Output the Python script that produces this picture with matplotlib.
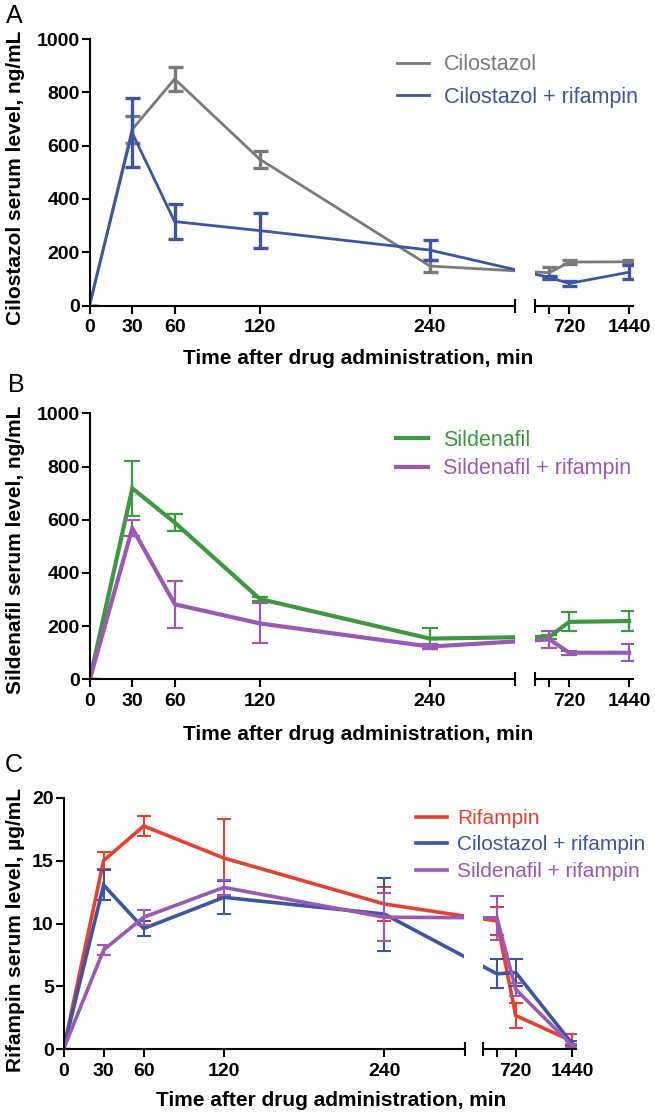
import matplotlib
matplotlib.use("Agg")
import matplotlib.pyplot as plt
import numpy as np

plt.rcParams['font.family'] = ['Liberation Sans', 'DejaVu Sans']

# sampling times, min
times = [0, 30, 60, 120, 240, 480, 720, 1440]

# panel A: cilostazol, ng/mL
cilo_mean = [0, 660, 850, 549, 148, 123, 163, 164]
cilo_err = [0, 52, 45, 32, 22, 21, 6, 6]
cilo_rif_mean = [0, 649, 315, 281, 208, 105, 83, 125]
cilo_rif_err = [0, 131, 65, 66, 37, 5, 9, 27]

# panel B: sildenafil, ng/mL
sild_mean = [0, 718, 589, 302, 153, 160, 216, 219]
sild_err = [0, 103, 33, 7, 40, 8, 36, 37]
sild_rif_mean = [0, 568, 282, 210, 123, 150, 100, 100]
sild_rif_err = [0, 30, 88, 75, 8, 33, 7, 32]

# panel C: rifampin, ug/mL
rif_mean = [0, 15.0, 17.75, 15.2, 11.55, 10.2, 2.68, 0.65]
rif_err = [0, 0.7, 0.8, 3.1, 1.35, 1.15, 1.0, 0.55]
cr_mean = [0, 13.06, 9.6, 12.08, 10.75, 6.0, 6.1, 0.45]
cr_err = [0, 1.2, 0.62, 1.3, 2.9, 1.15, 1.05, 0.2]
sr_mean = [0, 7.9, 10.5, 12.87, 10.5, 10.45, 4.77, 0.3]
sr_err = [0, 0.4, 0.6, 0.6, 1.9, 1.75, 0.5, 0.15]

GREY = '#7a7a7a'
BLUE = '#3d55a5'
GREEN = '#3b9a3f'
PURPLE = '#9b59b5'
RED = '#e8402f'

W, H = 655, 1117
L_END = 300.     # end of first x segment
R0 = 305.        # start of second x segment
X_END = 1485.
GAP = 14.
K = 0.0586

TICK_FS = 14
LAB_FS = 15


def fwd(t):
    t = np.asarray(t, float)
    return np.where(t <= L_END, t,
                    np.where(t < R0, L_END + (t - L_END) / (R0 - L_END) * GAP,
                             L_END + GAP + (t - R0) * K))


def inv(u):
    u = np.asarray(u, float)
    return np.where(u <= L_END, u,
                    np.where(u < L_END + GAP, L_END + (u - L_END) / GAP * (R0 - L_END),
                             R0 + (u - L_END - GAP) / K))


fig = plt.figure(figsize=(W / 100, H / 100), dpi=100)


def rect(x0, x1, ytop, ybot):
    return [x0 / W, 1 - ybot / H, (x1 - x0) / W, (ybot - ytop) / H]


def panel(x0, brk, ytop, ybot, series, ylim, yticks, ylabel, letter, letter_xy,
          ylab_xy, xlab_xy, leg_xy, leg_space, leg_fs, leg_pad, lw, elw, cap):
    ppu = (brk - x0) / L_END
    rx0 = brk + GAP * ppu
    rx1 = rx0 + (X_END - R0) * K * ppu
    axl = fig.add_axes(rect(x0, brk, ytop, ybot))
    axr = fig.add_axes(rect(rx0, rx1, ytop, ybot), sharey=axl)
    handles = []
    for ax in (axl, axr):
        ax.patch.set_visible(False)
        ax.set_xscale('function', functions=(fwd, inv))
        for mean, err, col, lab in series:
            ax.errorbar(times, mean, yerr=err, fmt='none', ecolor=col,
                        elinewidth=elw, capsize=cap, capthick=elw)
            h, = ax.plot(times, mean, color=col, lw=lw, label=lab,
                         solid_joinstyle='miter')
            if ax is axl:
                handles.append(h)
        for s in ('top', 'right'):
            ax.spines[s].set_visible(False)
        ax.spines['bottom'].set_linewidth(1.5)
        ax.spines['left'].set_linewidth(1.5)
        ax.tick_params(which='major', direction='out', length=6, width=1.5,
                       labelsize=TICK_FS, pad=4)
        ax.tick_params(which='minor', direction='inout', length=10, width=1.5)
    axl.set_xlim(0, L_END)
    axr.set_xlim(R0, X_END)
    axl.set_ylim(*ylim)
    axl.set_yticks(yticks)
    axl.set_yticklabels([str(v) for v in yticks], fontweight='bold')
    axl.tick_params(axis='y', pad=1)
    axl.set_xticks([0, 30, 60, 120, 240])
    axl.set_xticklabels(['0', '30', '60', '120', '240'], fontweight='bold')
    axl.set_xticks([L_END], minor=True)
    axr.set_xticks([480, 720, 1440])
    axr.set_xticklabels(['', '720', '1440'], fontweight='bold')
    axr.set_xticks([R0], minor=True)
    axr.spines['left'].set_visible(False)
    axr.tick_params(axis='y', which='both', left=False, labelleft=False)

    fig.text(letter_xy[0] / W, 1 - letter_xy[1] / H, letter, fontsize=18,
             ha='center', va='center')
    fig.text(ylab_xy[0] / W, 1 - ylab_xy[1] / H, ylabel, rotation=90,
             fontsize=LAB_FS, fontweight='bold', ha='center', va='center')
    fig.text(xlab_xy[0] / W, 1 - xlab_xy[1] / H,
             'Time after drug administration, min',
             fontsize=LAB_FS, fontweight='bold', ha='center', va='center')
    fig.legend(handles=handles, loc='center left', frameon=False,
               bbox_to_anchor=(leg_xy[0] / W, 1 - leg_xy[1] / H),
               bbox_transform=fig.transFigure, borderpad=0, borderaxespad=0,
               fontsize=leg_fs, handlelength=1.5, handletextpad=leg_pad,
               labelspacing=leg_space, labelcolor='linecolor')


panel(89.5, 515, 39, 305.5,
      [(cilo_mean, cilo_err, GREY, 'Cilostazol'),
       (cilo_rif_mean, cilo_rif_err, BLUE, 'Cilostazol + rifampin')],
      (0, 1000), [0, 200, 400, 600, 800, 1000],
      'Cilostazol serum level, ng/mL', 'A', (14, 16), (16, 178), (358, 358),
      (397, 81), 0.55, 15.5, 0.68, 2.0, 2.4, 5.4)

panel(89.8, 515, 413.3, 679.3,
      [(sild_mean, sild_err, GREEN, 'Sildenafil'),
       (sild_rif_mean, sild_rif_err, PURPLE, 'Sildenafil + rifampin')],
      (0, 1000), [0, 200, 400, 600, 800, 1000],
      'Sildenafil serum level, ng/mL', 'B', (16, 385), (16, 550), (358, 735),
      (396, 454.7), 0.35, 15.5, 0.68, 3.0, 1.6, 5.6)

panel(63.5, 464.5, 797.7, 1049.3,
      [(rif_mean, rif_err, RED, 'Rifampin'),
       (cr_mean, cr_err, BLUE, 'Cilostazol + rifampin'),
       (sr_mean, sr_err, PURPLE, 'Sildenafil + rifampin')],
      (0, 20), [0, 5, 10, 15, 20],
      'Rifampin serum level, \u00b5g/mL', 'C', (14, 765), (15.5, 930), (331, 1100),
      (415.6, 845), 0.35, 15, 0.5, 2.6, 1.5, 4.8)

fig.savefig('out.png', dpi=100)
